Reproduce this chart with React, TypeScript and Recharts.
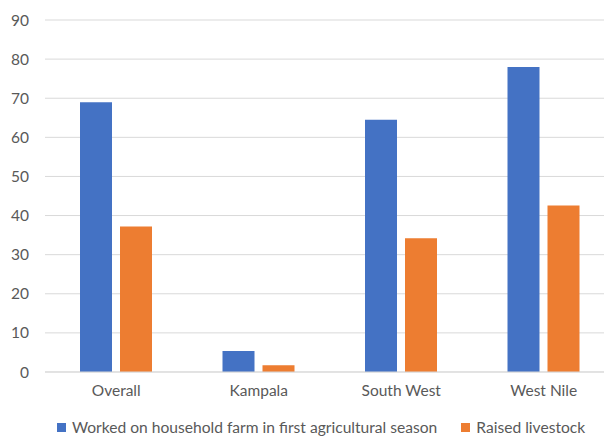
import { BarChart, Bar, XAxis, YAxis, CartesianGrid, Legend } from 'recharts'

const regions = ['Overall', 'Kampala', 'South West', 'West Nile']
const workedOnFarm = [69.0, 5.4, 64.5, 78.0]
const raisedLivestock = [37.2, 1.7, 34.2, 42.6]
const yTicks = [0, 10, 20, 30, 40, 50, 60, 70, 80, 90]

const seriesNames = {
  farm: 'Worked on household farm in first agricultural season',
  livestock: 'Raised livestock',
}

const data = regions.map((name, i) => ({
  name,
  farm: workedOnFarm[i],
  livestock: raisedLivestock[i],
}))

const textColor = '#595959'
const font = 'Lato, "Open Sans", sans-serif'

function ChartLegend() {
  const items = [
    { label: seriesNames.farm, color: '#4472C4' },
    { label: seriesNames.livestock, color: '#ED7D31' },
  ]
  return (
    <div style={{ display: 'flex', alignItems: 'center', gap: 24, height: 18 }}>
      {items.map((it) => (
        <div key={it.label} style={{ display: 'flex', alignItems: 'center' }}>
          <span
            style={{
              display: 'inline-block',
              width: 9,
              height: 9,
              background: it.color,
              marginRight: 6,
            }}
          />
          <span style={{ fontSize: 15.6, color: textColor, fontFamily: font, whiteSpace: 'nowrap' }}>
            {it.label}
          </span>
        </div>
      ))}
    </div>
  )
}

export default function App() {
  return (
    <div
      style={{
        position: 'absolute',
        left: 0,
        top: 0,
        width: 604,
        height: 436,
        overflow: 'hidden',
        background: 'white',
      }}
    >
      <BarChart
        width={616}
        height={436}
        data={data}
        margin={{ top: 20, right: 1, left: 0, bottom: 16 }}
        barSize={32}
        barGap={8}
      >
        <CartesianGrid vertical={false} stroke="#d9d9d9" />
        <XAxis
          dataKey="name"
          tick={{ fontSize: 15.5, fill: textColor, fontFamily: font }}
          axisLine={{ stroke: '#d9d9d9' }}
          tickLine={false}
          tickSize={0}
          tickMargin={13}
        />
        <YAxis
          width={45}
          domain={[0, 90]}
          ticks={yTicks}
          interval={0}
          tick={{ fontSize: 15.5, fill: textColor, fontFamily: font }}
          axisLine={false}
          tickLine={false}
          tickSize={0}
          tickMargin={16}
        />
        <Legend
          content={<ChartLegend />}
          wrapperStyle={{ left: 57, bottom: 0, width: 'auto' }}
        />
        <Bar dataKey="farm" name={seriesNames.farm} fill="#4472C4" isAnimationActive={false} />
        <Bar dataKey="livestock" name={seriesNames.livestock} fill="#ED7D31" isAnimationActive={false} />
      </BarChart>
    </div>
  )
}
